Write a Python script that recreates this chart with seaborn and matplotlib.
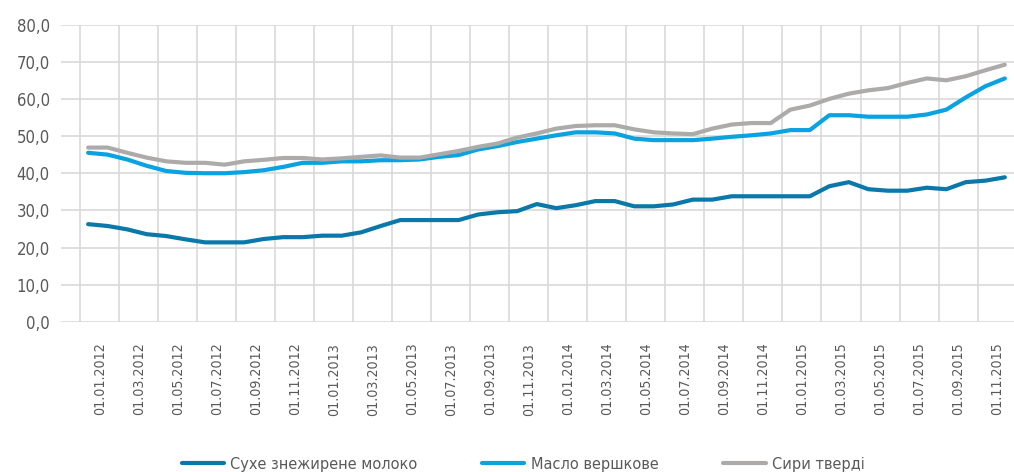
import numpy as np
import pandas as pd
import matplotlib
matplotlib.use('Agg')
import matplotlib.pyplot as plt
import seaborn as sns

# monthly prices, 01.2012 - 12.2015
milk = [26.3, 25.8, 24.9, 23.6, 23.1, 22.2, 21.4, 21.4, 21.4, 22.3, 22.8, 22.8,
        23.2, 23.2, 24.1, 25.8, 27.4, 27.4, 27.4, 27.4, 28.9, 29.5, 29.8, 31.7,
        30.6, 31.4, 32.5, 32.5, 31.1, 31.1, 31.6, 32.9, 32.9, 33.8, 33.8, 33.8,
        33.8, 33.8, 36.5, 37.6, 35.7, 35.3, 35.3, 36.1, 35.7, 37.6, 38.0, 38.9]
butter = [45.5, 45.0, 43.7, 42.0, 40.6, 40.1, 40.0, 40.0, 40.3, 40.8, 41.7, 42.8,
          42.8, 43.2, 43.2, 43.5, 43.5, 43.7, 44.4, 44.9, 46.4, 47.3, 48.4, 49.3,
          50.2, 51.0, 51.0, 50.7, 49.3, 48.9, 48.9, 48.9, 49.3, 49.8, 50.2, 50.7,
          51.6, 51.6, 55.6, 55.6, 55.2, 55.2, 55.2, 55.8, 57.1, 60.4, 63.4, 65.5]
cheese = [46.9, 46.9, 45.5, 44.2, 43.2, 42.8, 42.8, 42.3, 43.2, 43.6, 44.1, 44.1,
          43.7, 44.0, 44.4, 44.8, 44.2, 44.2, 45.1, 46.0, 47.1, 48.0, 49.6, 50.7,
          52.0, 52.7, 52.9, 52.9, 51.8, 51.0, 50.7, 50.5, 52.0, 53.1, 53.5, 53.5,
          57.1, 58.2, 60.0, 61.4, 62.3, 62.9, 64.3, 65.5, 65.0, 66.1, 67.7, 69.2]
series_names = ['Сухе знежирене молоко', 'Масло вершкове', 'Сири тверді']
colors = ['#0A78A8', '#08A3E0', '#ADAAAA']

dates = pd.date_range('2012-01-01', '2015-12-01', freq='MS')
tick_labels = [d.strftime('%d.%m.%Y') for d in dates[::2]]

df = pd.DataFrame({'idx': np.arange(len(dates)),
                   series_names[0]: milk,
                   series_names[1]: butter,
                   series_names[2]: cheese})
df_long = df.melt(id_vars='idx', var_name='series', value_name='value')

sns.set_style('white')
plt.rcParams['font.family'] = ['DejaVu Sans']
plt.rcParams['font.stretch'] = 'condensed'
text_col = '#595959'
grid_col = '#D9D9D9'

fig = plt.figure(figsize=(10.14, 4.72), dpi=100)
ax = fig.add_axes([0.060, 0.318, 0.940, 0.630])

sns.lineplot(data=df_long, x='idx', y='value', hue='series', palette=colors,
             linewidth=3.0, ax=ax, legend=True)

ax.set_ylim(0, 80)
ax.set_xlim(-1.4, 47.47)
ax.set_yticks(np.arange(0, 81, 10))
ax.set_yticklabels([f'{v:.1f}'.replace('.', ',') for v in range(0, 81, 10)],
                   fontsize=12, color=text_col)
major = np.arange(0, 48, 2) + 0.6
minor = np.arange(0, 48, 2) - 0.4
ax.set_xticks(major)
ax.set_xticklabels(tick_labels, rotation=90, fontsize=10.2, color=text_col,
                   va='top', ha='center')
ax.set_xticks(minor, minor=True)
ax.tick_params(axis='x', which='major', length=0, pad=15)
ax.tick_params(axis='x', which='minor', length=5, width=1.2, color=grid_col, direction='out')
ax.tick_params(axis='y', length=0, pad=8)
ax.grid(axis='y', color=grid_col, linewidth=1.2)
ax.grid(axis='x', which='minor', color=grid_col, linewidth=1.2)
ax.set_axisbelow(True)
for s in ax.spines.values():
    s.set_visible(False)
ax.set_xlabel('')
ax.set_ylabel('')

handles, labels = ax.get_legend_handles_labels()
ax.get_legend().remove()
fig.legend(handles, labels, loc='center', bbox_to_anchor=(523 / 1014, 8 / 472),
           ncol=3, frameon=False, fontsize=11.7, labelcolor=text_col,
           handlelength=2.6, handletextpad=0.37, columnspacing=4.0)

fig.savefig('out.png', dpi=100)
